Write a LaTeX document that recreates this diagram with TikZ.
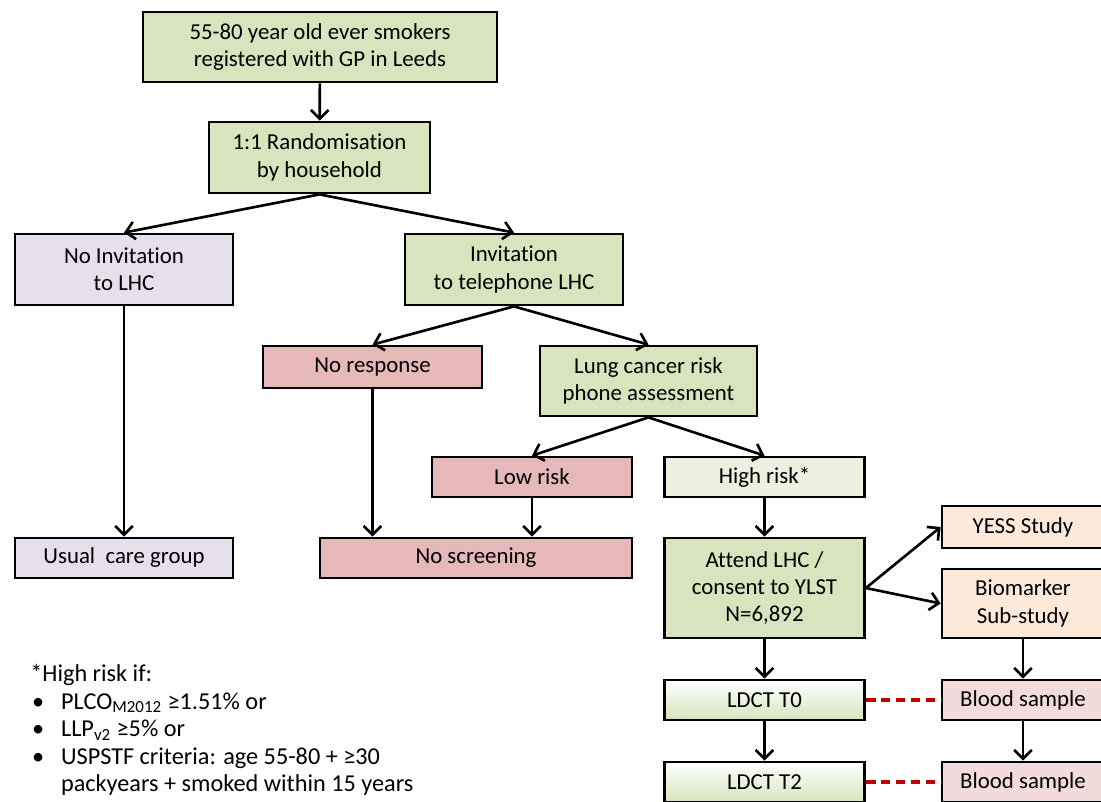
\documentclass[tikz,border=0pt]{standalone}
\usepackage{fontspec}
\setmainfont{Carlito}[Ligatures=NoCommon]
\usepackage{tikz}
\usepackage{xcolor}
\usetikzlibrary{arrows.meta, positioning, calc}

\definecolor{boxgreen}{HTML}{D7E4BD}
\definecolor{palegreen}{HTML}{EBF1DE}
\definecolor{lavender}{HTML}{E6E0EC}
\definecolor{rosebox}{HTML}{E6B9B8}
\definecolor{peach}{HTML}{FDE9D9}
\definecolor{bloodpink}{HTML}{F2DCDB}
\definecolor{dashred}{HTML}{C00000}

\begin{document}
\begin{tikzpicture}[x=0.02cm, y=-0.02cm,
    font=\fontsize{13}{15.6}\selectfont,
    box/.style={draw=black, line width=1.6pt, align=center, inner sep=1pt},
    greenbox/.style={box, fill=boxgreen},
    lilacbox/.style={box, fill=lavender},
    redbox/.style={box, fill=rosebox},
    peachbox/.style={box, fill=peach},
    ctbox/.style={box, top color=white, bottom color=boxgreen},
    arr/.style={-{Straight Barb[length=5pt, width=10pt]}, line width=1.5pt},
    link/.style={dashred, line width=2pt, dash pattern=on 5.5pt off 3pt}]
\useasboundingbox (0,0) rectangle (1101,801);

% Top of the trial
\node[greenbox, minimum width=7.08cm, minimum height=1.4cm] (pop) at (320,47)
    {55-80 year old ever smokers\\registered with GP in Leeds};
\node[greenbox, minimum width=4.42cm, minimum height=1.42cm] (rand) at (319.5,157.5)
    {1:1 Randomisation\\by household};

% Two arms
\node[lilacbox, minimum width=4.36cm, minimum height=1.42cm] (noinv) at (124,269.5)
    {No Invitation\\to LHC};
\node[greenbox, minimum width=4.36cm, minimum height=1.42cm] (inv) at (514,269.5)
    {Invitation\\to telephone LHC};
\node[lilacbox, minimum width=4.36cm, minimum height=0.8cm] (usual) at (124,558)
    {Usual\ \ care group};

% Invited arm
\node[redbox, minimum width=4.38cm, minimum height=0.84cm] (noresp) at (372.5,367)
    {No response};
\node[greenbox, minimum width=4.34cm, minimum height=1.4cm] (assess) at (648.5,381)
    {Lung cancer risk\\phone assessment};
\node[redbox, minimum width=4.0cm, minimum height=0.8cm] (low) at (532,477)
    {Low risk};
\node[box, fill=palegreen, minimum width=4.0cm, minimum height=0.8cm] (high) at (764.5,477)
    {High risk*};
\node[redbox, minimum width=6.24cm, minimum height=0.8cm] (noscreen) at (476,558)
    {No screening};
\node[greenbox, minimum width=4.0cm, minimum height=2.0cm] (attend) at (764.5,588)
    {Attend LHC /\\consent to YLST\\N=6,892};

% Sub-studies
\node[peachbox, minimum width=3.24cm, minimum height=0.84cm] (yess) at (1023,527)
    {YESS Study};
\node[peachbox, minimum width=3.24cm, minimum height=1.38cm] (bio) at (1023,603.5)
    {Biomarker\\Sub-study};

% Scans and samples
\node[ctbox, minimum width=4.0cm, minimum height=0.8cm] (ct0) at (764.5,700) {LDCT T0};
\node[ctbox, minimum width=4.0cm, minimum height=0.8cm] (ct2) at (764.5,782) {LDCT T2};
\node[box, fill=bloodpink, minimum width=3.24cm, minimum height=0.8cm] (blood0) at (1023,700)
    {Blood sample};
\node[box, fill=bloodpink, minimum width=3.24cm, minimum height=0.8cm] (blood2) at (1023,782)
    {Blood sample};

% Arrows
\draw[arr] (pop) -- (rand);
\draw[arr] (rand.south) -- (noinv.north);
\draw[arr] (rand.south) -- (inv.north);
\draw[arr] (noinv) -- (usual);
\draw[arr] (inv.south) -- (noresp.north);
\draw[arr] (inv.south) -- (assess.north);
\draw[arr] (noresp.south) -- (noresp.south |- noscreen.north);
\draw[arr] (assess.south) -- (low.north);
\draw[arr] (assess.south) -- (high.north);
\draw[arr] (low) -- (low.south |- noscreen.north);
\draw[arr] (high) -- (attend);
\draw[arr] (attend.east) -- (yess.west);
\draw[arr] (attend.east) -- (bio.west);
\draw[arr] (attend) -- (ct0);
\draw[arr] (ct0) -- (ct2);
\draw[arr] (bio) -- (blood0);
\draw[arr] (blood0) -- (blood2);
\draw[link] (ct0) -- (blood0);
\draw[link] (ct2) -- (blood2);

% Footnote
\node[anchor=north west, align=left, inner sep=0pt,
      font=\fontsize{13.8}{15.7}\selectfont] (crit) at (30,664)
    {*High risk if:\\
     \hspace*{1pt}\makebox[16.5pt][l]{\textbullet}PLCO\textsubscript{M2012} ≥1.51\% or\\
     \hspace*{1pt}\makebox[16.5pt][l]{\textbullet}LLP\textsubscript{v2} ≥5\% or\\
     \hspace*{1pt}\makebox[16.5pt][l]{\textbullet}USPSTF criteria: age 55-80 + ≥30\\
     \hspace*{17.5pt}packyears + smoked within 15 years};
\end{tikzpicture}
\end{document}
